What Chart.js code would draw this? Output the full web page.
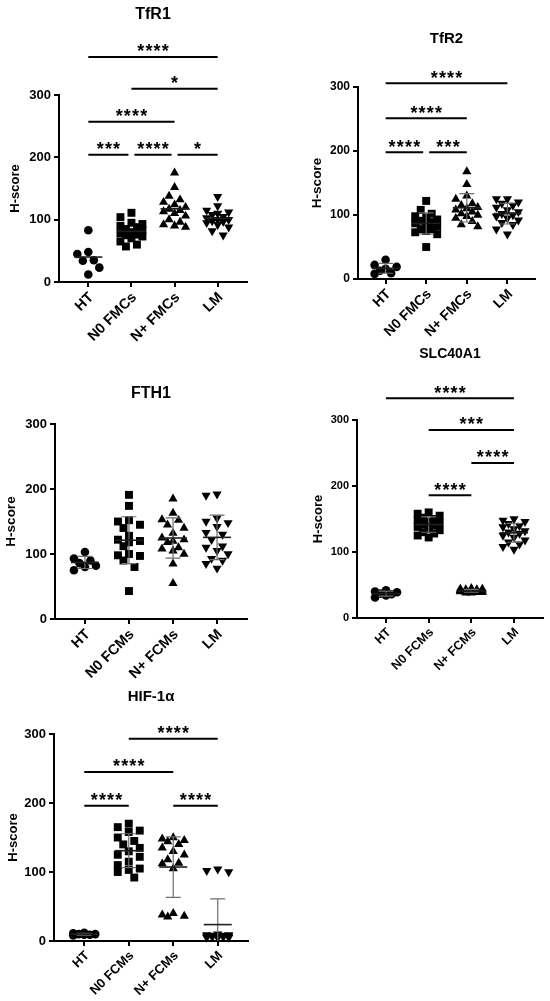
<!DOCTYPE html>
<html>
<head>
<meta charset="utf-8">
<script src="https://cdn.jsdelivr.net/npm/chart.js@4.4.1/dist/chart.umd.min.js"></script>
<style>
  html, body { margin: 0; padding: 0; background: #fff; }
  #wrap { position: relative; width: 550px; height: 1001px; }
  #wrap canvas { position: absolute; left: 0; top: 0; }
</style>
</head>
<body>
<div id="wrap"></div>
<script>
const labelsFMC = ['HT', 'N0 FMCs', 'N+ FMCs', 'LM'];
const labelsFCM = ['HT', 'N0 FCMs', 'N+ FCMs', 'LM'];
const yTicks = [0, 100, 200, 300];

// TfR1
const tfr1HT = [83, 45, 48, 35, 34, 23, 12];
const tfr1N0 = [111, 104, 95, 93, 90, 88, 85, 83, 80, 78, 76, 75, 73, 70, 65, 60, 57];
const tfr1NP = [175, 152, 138, 132, 128, 124, 120, 117, 115, 113, 110, 106, 100, 96, 92, 90, 88];
const tfr1LM = [137, 122, 115, 112, 110, 108, 105, 103, 100, 100, 98, 97, 95, 92, 88, 82, 75];
const tfr1Sig = [[0, 3, 361, '****'], [1, 3, 310, '*'], [0, 2, 257, '****'], [0, 1, 204, '***'], [1, 2, 204, '****'], [2, 3, 204, '*']];

// TfR2
const tfr2HT = [30, 22, 19, 16, 13, 9, 8];
const tfr2N0 = [122, 108, 102, 98, 96, 93, 91, 89, 87, 85, 82, 78, 78, 75, 73, 70, 50];
const tfr2NP = [168, 148, 130, 125, 118, 115, 112, 110, 108, 105, 102, 100, 98, 95, 90, 85, 82];
const tfr2LM = [125, 125, 120, 118, 115, 112, 108, 105, 102, 100, 98, 95, 92, 88, 85, 78, 70];
const tfr2Sig = [[0, 3, 306, '****'], [0, 2, 251, '****'], [0, 1, 198, '****'], [1, 2, 198, '***']];

// FTH1
const fth1HT = [103, 93, 90, 86, 82, 80, 75];
const fth1N0 = [191, 174, 152, 150, 145, 140, 128, 122, 120, 118, 112, 100, 98, 97, 90, 80, 43];
const fth1NP = [185, 163, 153, 152, 145, 140, 132, 125, 122, 120, 118, 110, 108, 105, 100, 85, 55];
const fth1LM = [192, 190, 155, 150, 148, 142, 133, 130, 122, 112, 110, 105, 100, 93, 90, 85, 78];
const fth1Sig = [];

// SLC40A1
const slcHT = [42, 40, 39, 37, 36, 34, 31];
const slcN0 = [160, 158, 155, 152, 150, 148, 146, 144, 142, 140, 138, 135, 133, 130, 128, 125, 122];
const slcNP = [45, 44, 44, 43, 43, 42, 42, 41, 41, 41, 40, 40, 40, 39, 39, 38, 38];
const slcLM = [150, 148, 146, 143, 140, 138, 135, 132, 130, 128, 125, 122, 118, 115, 112, 108, 104];
const slcSig = [[0, 3, 333, '****'], [1, 3, 285, '***'], [2, 3, 235, '****'], [1, 2, 186, '****']];

// HIF-1α
const hifHT = [12, 11, 10, 10, 9, 9, 8];
const hifN0 = [170, 165, 160, 158, 150, 145, 140, 135, 130, 125, 122, 115, 110, 105, 103, 100, 92];
const hifNP = [150, 148, 146, 144, 140, 135, 130, 125, 118, 113, 112, 105, 40, 38, 36, 35];
const hifLM = [104, 102, 100, 10, 9, 9, 8, 8, 7, 7, 7, 6, 6, 6, 5, 5, 5];
const hifSig = [[1, 3, 293, '****'], [0, 2, 245, '****'], [0, 1, 196, '****'], [2, 3, 196, '****']];

const markers = ['circle', 'rect', 'triangle', 'triangle'];
const markerRot = [0, 0, 0, 180];
const markerRad = [4.3, 5.6, 5.3, 5.3];
const FONT = '"Liberation Sans", Arial, sans-serif';

const panels = [
  { title: 'TfR1', labels: labelsFMC, groups: [tfr1HT, tfr1N0, tfr1NP, tfr1LM], sig: tfr1Sig,
    box: [59, 95, 247, 282], titleY: 15, titleFont: 16, yTitleX: 15, yTitleFont: 13, tickFont: 13, xFont: 14.5, showSD: false },
  { title: 'TfR2', labels: labelsFMC, groups: [tfr2HT, tfr2N0, tfr2NP, tfr2LM], sig: tfr2Sig,
    box: [358, 87, 535, 279], titleY: 39, titleFont: 15, yTitleX: 317, yTitleFont: 13.5, tickFont: 12, xFont: 14, showSD: true },
  { title: 'FTH1', labels: labelsFCM, groups: [fth1HT, fth1N0, fth1NP, fth1LM], sig: fth1Sig,
    box: [55, 424, 247, 619], titleY: 394, titleFont: 16, yTitleX: 11, yTitleFont: 13.5, tickFont: 13, xFont: 14.5, showSD: true },
  { title: 'SLC40A1', labels: labelsFCM, groups: [slcHT, slcN0, slcNP, slcLM], sig: slcSig,
    box: [357, 420, 543, 618], titleY: 354, titleFont: 14, yTitleX: 318, yTitleFont: 13, tickFont: 11, xFont: 12.5, showSD: true },
  { title: 'HIF-1α', labels: labelsFCM, groups: [hifHT, hifN0, hifNP, hifLM], sig: hifSig,
    box: [54, 734, 248, 941], titleY: 697, titleFont: 15, yTitleX: 13, yTitleFont: 13, tickFont: 13, xFont: 13, showSD: true }
];

function statsOf(v) {
  const n = v.length;
  const m = v.reduce((a, b) => a + b, 0) / n;
  const sd = Math.sqrt(v.reduce((a, b) => a + (b - m) * (b - m), 0) / (n - 1));
  return { m, sd };
}

// spread points sideways where they would overlap (like a scatter dot plot)
function swarm(chart) {
  const xs = chart.scales.x, ys = chart.scales.y;
  const unit = xs.getPixelForValue(1) - xs.getPixelForValue(0);
  const step = 5.5, maxOff = 11, diam = 9;
  const cands = [0];
  for (let k = step; k <= maxOff + 0.01; k += step) cands.push(-k, k);
  chart.data.datasets.forEach((ds, gi) => {
    const placed = [];
    const pts = ds.data.map(p => ({ p, py: ys.getPixelForValue(p.y) })).sort((a, b) => a.py - b.py);
    pts.forEach(o => {
      let best = 0, bestD = -1;
      for (const c of cands) {
        let dmin = Infinity;
        placed.forEach(q => {
          const d = Math.hypot(q.dx - c, q.py - o.py);
          if (d < dmin) dmin = d;
        });
        if (dmin >= diam) { best = c; break; }
        if (dmin > bestD) { bestD = dmin; best = c; }
      }
      placed.push({ dx: best, py: o.py });
      o.p.x = gi + best / unit;
    });
  });
  chart.update('none');
}

function extras(p) {
  return {
    id: 'extras',
    afterDatasetsDraw(chart) {
      const ctx = chart.ctx, xs = chart.scales.x, ys = chart.scales.y;
      p.groups.forEach((g, i) => {
        const { m, sd } = statsOf(g);
        const cx = xs.getPixelForValue(i);
        ctx.save();
        if (p.showSD) {
          const yt = ys.getPixelForValue(m + sd);
          const yb = ys.getPixelForValue(Math.max(m - sd, 0));
          ctx.strokeStyle = '#6e6e6e';
          ctx.lineWidth = 1.2;
          ctx.beginPath();
          ctx.moveTo(cx, yt); ctx.lineTo(cx, yb);
          ctx.moveTo(cx - 7.5, yt); ctx.lineTo(cx + 7.5, yt);
          if (m - sd > 0) { ctx.moveTo(cx - 7.5, yb); ctx.lineTo(cx + 7.5, yb); }
          ctx.stroke();
        }
        const ym = ys.getPixelForValue(m);
        ctx.strokeStyle = '#1e1e1e';
        ctx.lineWidth = 1.6;
        ctx.beginPath();
        ctx.moveTo(cx - 14, ym); ctx.lineTo(cx + 14, ym);
        ctx.stroke();
        ctx.restore();
      });
    },
    afterDraw(chart) {
      const ctx = chart.ctx, xs = chart.scales.x, ys = chart.scales.y, area = chart.chartArea;
      ctx.save();
      p.sig.forEach(s => {
        const [a, b, v, txt] = s;
        const shared = idx => p.sig.some(o => o !== s && o[2] === v && (o[0] === idx || o[1] === idx));
        let x1 = xs.getPixelForValue(a), x2 = xs.getPixelForValue(b);
        if (shared(a)) x1 += 3;
        if (shared(b)) x2 -= 3;
        const y = ys.getPixelForValue(v);
        ctx.strokeStyle = '#000';
        ctx.lineWidth = 2;
        ctx.beginPath();
        ctx.moveTo(x1, y); ctx.lineTo(x2, y);
        ctx.stroke();
        ctx.fillStyle = '#000';
        ctx.font = 'bold 18px ' + FONT;
        ctx.letterSpacing = '1.2px';
        ctx.textAlign = 'center';
        ctx.textBaseline = 'alphabetic';
        ctx.fillText(txt, (x1 + x2) / 2 + 0.6, y + 0.5);
      });
      ctx.letterSpacing = '0px';
      ctx.font = 'bold ' + p.titleFont + 'px ' + FONT;
      ctx.textAlign = 'center';
      ctx.textBaseline = 'middle';
      ctx.fillStyle = '#000';
      ctx.fillText(p.title, (area.left + area.right) / 2, p.titleY);
      ctx.restore();
    }
  };
}

const wrap = document.getElementById('wrap');

panels.forEach(p => {
  const cv = document.createElement('canvas');
  cv.width = 550;
  cv.height = 1001;
  wrap.appendChild(cv);
  const yW = p.box[0] - (p.yTitleX - p.yTitleFont / 2);
  const xH = 60;
  const chart = new Chart(cv, {
    type: 'scatter',
    data: {
      datasets: p.groups.map((g, i) => ({
        data: g.map(v => ({ x: i, y: v })),
        pointStyle: markers[i],
        rotation: markerRot[i],
        pointRadius: markerRad[i],
        pointHoverRadius: markerRad[i],
        backgroundColor: '#000',
        borderColor: '#000',
        borderWidth: 0,
        clip: false
      }))
    },
    options: {
      responsive: false,
      animation: false,
      events: [],
      layout: {
        padding: { left: p.box[0] - yW, top: p.box[1], right: 550 - p.box[2], bottom: 1001 - p.box[3] - xH }
      },
      plugins: { legend: { display: false }, tooltip: { enabled: false } },
      scales: {
        x: {
          type: 'linear',
          min: -0.68,
          max: 3.68,
          afterBuildTicks: ax => { ax.ticks = [0, 1, 2, 3].map(v => ({ value: v })); },
          afterFit: ax => { ax.height = xH; },
          ticks: {
            autoSkip: false, minRotation: 45, maxRotation: 45, padding: 2, labelOffset: 3, color: '#000',
            font: { family: FONT, weight: 'bold', size: p.xFont },
            callback: v => p.labels[v]
          },
          grid: { drawOnChartArea: false, drawTicks: true, tickLength: 5, color: '#000', lineWidth: 2 },
          border: { display: true, color: '#000', width: 2 }
        },
        y: {
          min: 0,
          max: 300,
          afterBuildTicks: ax => { ax.ticks = yTicks.map(v => ({ value: v })); },
          afterFit: ax => { ax.width = yW; },
          ticks: { padding: 3, color: '#000', font: { family: FONT, weight: 'bold', size: p.tickFont } },
          grid: { drawOnChartArea: false, drawTicks: true, tickLength: 5, color: '#000', lineWidth: 2 },
          border: { display: true, color: '#000', width: 2 },
          title: {
            display: true, text: 'H-score', color: '#000', padding: 0,
            font: { family: FONT, weight: 'bold', size: p.yTitleFont, lineHeight: 1 }
          }
        }
      }
    },
    plugins: [extras(p)]
  });
  swarm(chart);
});
</script>
</body>
</html>
